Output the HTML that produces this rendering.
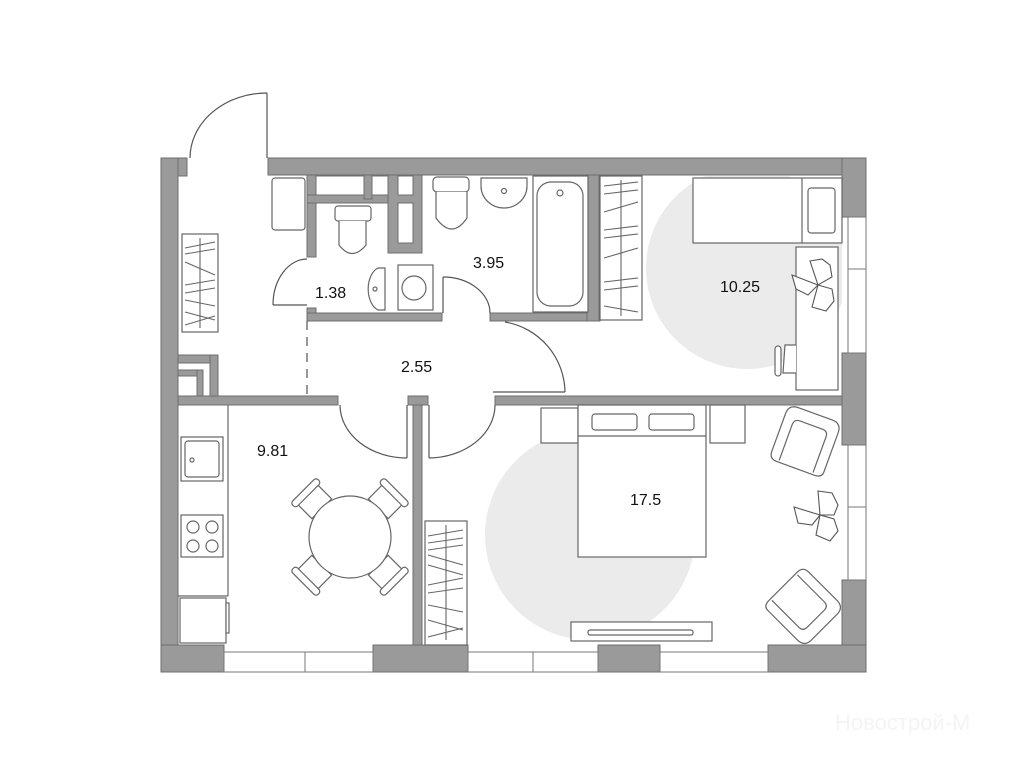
<!DOCTYPE html>
<html><head><meta charset="utf-8"><style>
html,body{margin:0;padding:0;background:#fff;width:1024px;height:768px;overflow:hidden}
svg{display:block}
text{font-family:"Liberation Sans",sans-serif;font-size:16px;fill:#111}
</style></head><body>
<svg width="1024" height="768" viewBox="0 0 1024 768" xmlns="http://www.w3.org/2000/svg">
<defs>
<clipPath id="c1"><rect x="642" y="176" width="200" height="219"/></clipPath>
<clipPath id="c2"><rect x="428" y="405" width="414" height="240"/></clipPath>
</defs>
<circle cx="747" cy="268" r="101" fill="#ebebeb" clip-path="url(#c1)"/>
<circle cx="590" cy="535" r="105" fill="#ebebeb" clip-path="url(#c2)"/>

<g fill="#9a9a9a" stroke="#6e6e6e" stroke-width="1">
<rect x="161" y="158" width="26" height="18"/>
<rect x="161" y="158" width="17" height="514"/>
<rect x="268" y="158" width="598" height="17"/>
<rect x="842" y="158" width="24" height="59"/>
<rect x="842" y="353" width="24" height="92"/>
<rect x="842" y="580" width="24" height="92"/>
<rect x="768" y="645" width="98" height="27"/>
<rect x="161" y="645" width="63" height="27"/>
<rect x="373" y="645" width="95" height="27"/>
<rect x="598" y="645" width="62" height="27"/>
<rect x="178" y="396" width="160" height="9"/>
<rect x="495" y="396" width="347" height="9"/>
<rect x="413" y="400" width="9" height="245"/>
<rect x="408" y="396" width="20" height="9"/>
<rect x="178" y="355" width="40" height="8"/>
<rect x="210" y="355" width="8" height="41"/>
<rect x="178" y="370" width="25" height="6"/>
<rect x="197" y="370" width="6" height="26"/>
<rect x="307" y="175" width="9" height="82"/>
<rect x="307" y="308" width="9" height="13"/>
<rect x="307" y="313" width="135" height="8"/>
<rect x="490" y="313" width="110" height="8"/>
<rect x="587" y="175" width="12" height="146"/>
<rect x="307" y="195" width="91" height="8"/>
<rect x="388" y="175" width="34" height="78"/>
<rect x="364" y="175" width="8" height="24"/>
</g>
<g fill="#fff" stroke="#6e6e6e">
<rect x="316" y="176" width="48" height="19"/>
<rect x="372" y="176" width="16" height="19"/>
<rect x="398" y="176" width="15" height="19"/>
<rect x="398" y="203" width="15" height="40"/>
</g>
<g fill="#fff" stroke="#777" stroke-width="1">
<rect x="224" y="652" width="81" height="20"/><rect x="305" y="652" width="68" height="20"/>
<rect x="468" y="652" width="65" height="20"/><rect x="533" y="652" width="65" height="20"/>
<rect x="660" y="652" width="108" height="20"/>
<rect x="848" y="217" width="18" height="52"/><rect x="848" y="269" width="18" height="84"/>
<rect x="848" y="445" width="18" height="62"/><rect x="848" y="507" width="18" height="73"/>
</g>

<g fill="none" stroke="#555" stroke-width="1.2">
<line x1="267" y1="93" x2="267" y2="158"/>
<path d="M267 93 A 77 65 0 0 0 190 158"/>
<line x1="273" y1="305" x2="307" y2="305"/>
<path d="M273 305 A 34 46 0 0 1 307 259"/>
<line x1="443" y1="277" x2="443" y2="313"/>
<path d="M443 277 A 47 36 0 0 1 490 313"/>
<line x1="493" y1="392" x2="565" y2="392"/>
<path d="M565 392 A 72 72 0 0 0 505 322"/>
<line x1="407" y1="405" x2="407" y2="458"/>
<path d="M340 405 A 67 53 0 0 0 407 458"/>
<line x1="429" y1="405" x2="429" y2="458"/>
<path d="M429 458 A 67 53 0 0 0 495 405"/>
<line x1="307" y1="321" x2="307" y2="396" stroke-dasharray="9 7"/>
</g>

<g fill="#fff" stroke="#666" stroke-width="1.2">
<rect x="272" y="178" width="33" height="52" rx="3"/>
<rect x="182" y="234" width="36" height="98"/>
<rect x="335" y="206" width="36" height="15" rx="3"/>
<path d="M339 221 L339 245 Q352 262 366 245 L366 221"/>
<path d="M385 268 L378 268 A 14 22 0 0 0 378 310 L385 310 Z"/>
<circle cx="375" cy="289" r="2"/>
<rect x="398" y="265" width="35" height="45"/>
<circle cx="414" cy="288" r="12"/>
<rect x="433" y="177" width="36" height="15" rx="4"/>
<path d="M436 192 L436 218 Q452 240 467 218 L467 192"/>
<path d="M481 178 L527 178 L527 186 A 23 22 0 0 1 481 186 Z"/>
<circle cx="504" cy="191" r="2.5"/>
<rect x="533" y="176" width="55" height="136"/>
<rect x="537" y="182" width="46" height="124" rx="14"/>
<circle cx="560" cy="193" r="3"/>
<rect x="600" y="176" width="42" height="144"/>
<rect x="693" y="178" width="149" height="65"/>
<line x1="802" y1="178" x2="802" y2="243"/>
<rect x="808" y="188" width="27" height="45" rx="3"/>
<rect x="796" y="247" width="42" height="143"/>
<path d="M796 345 L785 345 L783 373 L796 373"/>
<rect x="775" y="346" width="6" height="30" rx="3"/>
<line x1="228" y1="405" x2="228" y2="596"/>
<line x1="178" y1="596" x2="228" y2="596"/>
<rect x="181" y="437" width="42" height="44"/>
<rect x="185" y="441" width="34" height="36" rx="3"/>
<circle cx="192" cy="460" r="2"/>
<rect x="181" y="515" width="42" height="42"/>
<circle cx="193" cy="527" r="6"/><circle cx="212" cy="527" r="6"/>
<circle cx="193" cy="546" r="6"/><circle cx="212" cy="546" r="6"/>
<rect x="180" y="598" width="46" height="45"/>
<rect x="226" y="603" width="3" height="30"/>
<g transform="translate(350,537)">
<g transform="rotate(-45)"><rect x="-14" y="-62" width="28" height="22"/><rect x="-18" y="-66" width="36" height="7" rx="3"/></g>
<g transform="rotate(45)"><rect x="-14" y="-62" width="28" height="22"/><rect x="-18" y="-66" width="36" height="7" rx="3"/></g>
<g transform="rotate(135)"><rect x="-14" y="-62" width="28" height="22"/><rect x="-18" y="-66" width="36" height="7" rx="3"/></g>
<g transform="rotate(225)"><rect x="-14" y="-62" width="28" height="22"/><rect x="-18" y="-66" width="36" height="7" rx="3"/></g>
<circle r="41"/>
</g>
<rect x="425" y="521" width="42" height="124"/>
<rect x="541" y="408" width="37" height="35"/>
<rect x="578" y="405" width="128" height="152"/>
<line x1="578" y1="436" x2="706" y2="436"/>
<rect x="592" y="414" width="45" height="16" rx="3"/>
<rect x="649" y="414" width="45" height="16" rx="3"/>
<rect x="710" y="405" width="35" height="38"/>
<rect x="571" y="622" width="141" height="19"/>
<rect x="588" y="630" width="105" height="5" rx="2"/>
<g transform="translate(805,442) rotate(20)">
<path d="M-28 -20 Q-28 -30 -18 -30 L18 -30 Q28 -30 28 -20 L28 22 Q28 28 20 28 L-20 28 Q-28 28 -28 20 Z"/>
<path d="M-18 26 L-18 -12 Q-18 -18 -12 -18 L12 -18 Q18 -18 18 -12 L18 26"/>
</g>
<g transform="translate(803,606) rotate(135)">
<path d="M-28 -20 Q-28 -30 -18 -30 L18 -30 Q28 -30 28 -20 L28 22 Q28 28 20 28 L-20 28 Q-28 28 -28 20 Z"/>
<path d="M-18 26 L-18 -12 Q-18 -18 -12 -18 L12 -18 Q18 -18 18 -12 L18 26"/>
</g>
</g>
<g stroke="#666" stroke-width="1.1" fill="none">
<line x1="200" y1="238" x2="200" y2="328"/>
<line x1="185" y1="248" x2="215" y2="242"/><line x1="185" y1="254" x2="215" y2="249"/><line x1="185" y1="262" x2="215" y2="275"/>
<line x1="185" y1="285" x2="215" y2="280"/><line x1="185" y1="293" x2="215" y2="288"/><line x1="185" y1="300" x2="215" y2="306"/>
<line x1="185" y1="312" x2="215" y2="320"/><line x1="185" y1="325" x2="215" y2="316"/>
<line x1="621" y1="180" x2="621" y2="316"/>
<line x1="604" y1="186" x2="638" y2="182"/><line x1="604" y1="194" x2="638" y2="190"/><line x1="604" y1="212" x2="638" y2="202"/>
<line x1="604" y1="230" x2="638" y2="226"/><line x1="604" y1="238" x2="638" y2="234"/><line x1="604" y1="258" x2="638" y2="248"/>
<line x1="604" y1="282" x2="638" y2="278"/><line x1="604" y1="290" x2="638" y2="286"/><line x1="604" y1="306" x2="638" y2="312"/>
<line x1="446" y1="525" x2="446" y2="640"/>
<line x1="428" y1="536" x2="463" y2="530"/><line x1="428" y1="543" x2="463" y2="538"/><line x1="428" y1="550" x2="463" y2="545"/>
<line x1="428" y1="555" x2="463" y2="565"/><line x1="428" y1="565" x2="463" y2="575"/>
<line x1="428" y1="585" x2="463" y2="578"/><line x1="428" y1="593" x2="463" y2="588"/>
<line x1="428" y1="605" x2="463" y2="612"/><line x1="428" y1="620" x2="463" y2="630"/><line x1="428" y1="637" x2="463" y2="628"/>
</g>
<g fill="#fff" stroke="#555" stroke-width="1.1">
<g transform="translate(818,285)">
<path d="M0 0 L-8 -24 L4 -26 L12 -20 L14 -8 Z"/><path d="M0 0 L-26 -10 L-22 4 L-10 10 Z"/><path d="M0 0 L-6 22 L8 26 L16 16 L14 4 Z"/>
</g>
<g transform="translate(820,515)">
<path d="M0 0 L-2 -24 L12 -22 L18 -10 L14 0 Z"/><path d="M0 0 L-26 -8 L-22 8 L-8 10 Z"/><path d="M0 0 L-4 20 L10 26 L18 16 L14 4 Z"/>
</g>
</g>
<text x="315" y="298">1.38</text>
<text x="473" y="268">3.95</text>
<text x="401" y="372">2.55</text>
<text x="720" y="292">10.25</text>
<text x="257" y="456">9.81</text>
<text x="630" y="505">17.5</text>
<text x="835" y="730" style="font-size:22px;fill:#f4f4f4">Новострой-М</text>
</svg>
</body></html>
